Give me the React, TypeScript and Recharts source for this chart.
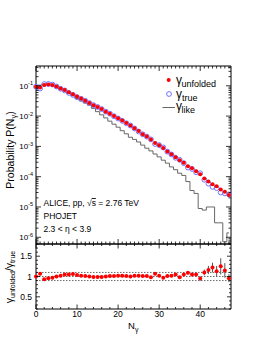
import React from "react";
import { ComposedChart, Scatter, Line, XAxis, YAxis, ReferenceLine, ErrorBar } from "recharts";

const FONT = '"Liberation Sans", Arial, Helvetica, sans-serif';

// photon multiplicity bins
const nGamma = [
  0, 1, 2, 3, 4, 5, 6, 7, 8, 9, 10, 11, 12, 13, 14, 15, 16, 17, 18, 19, 20, 21, 22, 23,
  24, 25, 26, 27, 28, 29, 30, 31, 32, 33, 34, 35, 36, 37, 38, 39, 40, 41, 42, 43, 44, 45, 46, 47,
];

const unfolded = [
  0.093, 0.087, 0.107, 0.110, 0.107, 0.095, 0.082, 0.073, 0.061, 0.053,
  0.044, 0.038, 0.032, 0.027, 0.023, 0.020, 0.017, 0.014, 0.012, 0.010,
  0.0085, 0.0071, 0.0059, 0.0049, 0.0040, 0.0032, 0.0025, 0.0021, 0.0017, 0.0013,
  0.0011, 0.00089, 0.00068, 0.00055, 0.00044, 0.00035, 0.00029, 0.00022, 0.00019, 0.00015,
  0.00012, 8.7e-5, 6.9e-5, 5.6e-5, 4.8e-5, 3.8e-5, 3.2e-5, 2.5e-5,
];

const truth = [
  0.093, 0.081, 0.114, 0.115, 0.110, 0.095, 0.080, 0.070, 0.058, 0.050,
  0.042, 0.037, 0.032, 0.027, 0.023, 0.020, 0.017, 0.014, 0.012, 0.0099,
  0.0083, 0.0070, 0.0058, 0.0049, 0.0039, 0.0031, 0.0025, 0.0021, 0.0017, 0.0012,
  0.0011, 0.00092, 0.00067, 0.00054, 0.00042, 0.00036, 0.00028, 0.00020, 0.00018, 0.00014,
  0.00013, 7.9e-5, 5.9e-5, 4.6e-5, 4.2e-5, 3.0e-5, 2.8e-5, 2.6e-5,
];

const likeDist = [
  0.100, 0.105, 0.112, 0.112, 0.105, 0.093, 0.079, 0.068, 0.056, 0.047,
  0.038, 0.032, 0.027, 0.023, 0.018, 0.014, 0.011, 0.0087, 0.0068, 0.0054,
  0.0043, 0.0033, 0.0026, 0.0020, 0.0017, 0.0014, 0.0011, 0.00087, 0.00071, 0.00056,
  0.00045, 0.00035, 0.00028, 0.00021, 0.00017, 0.00013, 0.00011, 6.9e-5, 3.5e-5, 2.8e-5,
  8.9e-6, 7.9e-6, 1.0e-5, 1.0e-5, 3.0e-6, 3.0e-6, 7.1e-7, 1.4e-6,
];

const ratio = [
  1.0, 1.07, 0.935, 0.96, 0.97, 1.0, 1.02, 1.05, 1.05, 1.06,
  1.04, 1.02, 1.01, 1.0, 0.99, 0.99, 0.99, 1.0, 1.01, 1.01,
  1.02, 1.02, 1.01, 1.0, 1.02, 1.02, 1.01, 1.01, 0.98, 1.07,
  1.02, 0.97, 1.01, 1.02, 1.05, 0.98, 1.05, 1.09, 1.05, 1.05,
  0.95, 1.1, 1.16, 1.22, 1.13, 1.25, 1.15, 0.96,
];

const ratioErr = [
  0.01, 0.01, 0.01, 0.01, 0.01, 0.01, 0.01, 0.01, 0.01, 0.01,
  0.01, 0.01, 0.01, 0.01, 0.01, 0.01, 0.01, 0.01, 0.01, 0.01,
  0.01, 0.01, 0.015, 0.015, 0.015, 0.015, 0.02, 0.02, 0.02, 0.02,
  0.02, 0.025, 0.025, 0.025, 0.03, 0.03, 0.035, 0.04, 0.04, 0.045,
  0.05, 0.07, 0.1, 0.12, 0.13, 0.2, 0.18, 0.1,
];

const xLabels = [0, 10, 20, 30, 40];
const decades = [1e-6, 1e-5, 1e-4, 1e-3, 1e-2, 1e-1];
const ratioLabels = [0.5, 1, 1.5];
const ratioGuides = [0.9, 1, 1.1];

const X_DOMAIN: [number, number] = [0, 47.5];
const LOG_DOMAIN: [number, number] = [6e-7, 0.45];
const RATIO_DOMAIN: [number, number] = [0.2, 1.8];

const topData = nGamma.map((n, i) => ({ n, unfolded: unfolded[i], truth: truth[i], like: likeDist[i] }));
const ratioData = nGamma.map((n, i) => ({ n, ratio: ratio[i], err: ratioErr[i] }));

// tick positions
const xTicksFine = Array.from({ length: 48 }, (_, i) => i);
const xTicksCoarse = Array.from({ length: 24 }, (_, i) => i * 2);
const logTicks: number[] = [];
[1e-7, ...decades].forEach((d) => {
  for (let k = 1; k < 10; k++) {
    const v = d * k;
    if (v >= LOG_DOMAIN[0] && v <= LOG_DOMAIN[1]) logTicks.push(v);
  }
});
const ratioTicks = Array.from({ length: 17 }, (_, i) => Math.round((0.2 + i * 0.1) * 10) / 10);

const isDecade = (v: number) => Math.abs(Math.log10(v) - Math.round(Math.log10(v))) < 1e-6;
const isTen = (v: number) => v % 10 === 0;
const isHalf = (v: number) => Math.abs(v * 2 - Math.round(v * 2)) < 1e-6;

const LogLeftTick = ({ x, y, payload }: any) => {
  const major = isDecade(payload.value);
  return (
    <g>
      <line x1={x} x2={x + (major ? 5 : 2.5)} y1={y} y2={y} stroke="#000" strokeWidth={0.8} />
      {major && (
        <text x={x - 3} y={y + 3} textAnchor="end" fontSize={8} fontFamily={FONT} fill="#000">
          10<tspan dy={-3.5} fontSize={5.5}>{Math.round(Math.log10(payload.value))}</tspan>
        </text>
      )}
    </g>
  );
};

const LogRightTick = ({ x, y, payload }: any) => {
  const major = isDecade(payload.value);
  return <line x1={x} x2={x - (major ? 5 : 2.5)} y1={y} y2={y} stroke="#000" strokeWidth={0.8} />;
};

const RatioLeftTick = ({ x, y, payload }: any) => {
  const major = isHalf(payload.value);
  return (
    <g>
      <line x1={x} x2={x + (major ? 4 : 2)} y1={y} y2={y} stroke="#000" strokeWidth={0.8} />
      {major && ratioLabels.includes(payload.value) && (
        <text x={x - 4} y={y + 3} textAnchor="end" fontSize={8.5} fontFamily={FONT} fill="#000">
          {payload.value}
        </text>
      )}
    </g>
  );
};

const RatioRightTick = ({ x, y, payload }: any) => {
  const major = isHalf(payload.value);
  return <line x1={x} x2={x - (major ? 4 : 2)} y1={y} y2={y} stroke="#000" strokeWidth={0.8} />;
};

const TopXTick = ({ x, y, payload }: any) => (
  <line x1={x} x2={x} y1={y} y2={y + (isTen(payload.value) ? 5 : 2.5)} stroke="#000" strokeWidth={0.8} />
);

const BottomXTick = ({ x, y, payload }: any) => (
  <line x1={x} x2={x} y1={y} y2={y - (isTen(payload.value) ? 5 : 2.5)} stroke="#000" strokeWidth={0.8} />
);

const RatioBottomTick = ({ x, y, payload }: any) => (
  <g>
    <line x1={x} x2={x} y1={y} y2={y - (isTen(payload.value) ? 4.5 : 2)} stroke="#000" strokeWidth={0.8} />
    {xLabels.includes(payload.value) && (
      <text x={x} y={y + 7.5} textAnchor="middle" fontSize={8.5} fontFamily={FONT} fill="#000">
        {payload.value}
      </text>
    )}
  </g>
);

const RatioTopTick = ({ x, y, payload }: any) => (
  <line x1={x} x2={x} y1={y} y2={y + (isTen(payload.value) ? 4.5 : 2)} stroke="#000" strokeWidth={0.8} />
);

const axisLine = { stroke: "#000", strokeWidth: 1 };

export default function App() {
  return (
    <div style={{ position: "absolute", left: 0, top: 0, width: 262, height: 339, background: "#fff", fontFamily: FONT }}>
      <div style={{ position: "absolute", left: 0, top: 0 }}>
        <ComposedChart width={262} height={254} data={topData} margin={{ top: 0, right: 0, bottom: 0, left: 0 }}>
          <XAxis xAxisId="b" dataKey="n" type="number" domain={X_DOMAIN} ticks={xTicksFine} interval={0}
            orientation="bottom" height={10} tickSize={0} tickMargin={0} tickLine={false} axisLine={axisLine} tick={BottomXTick} />
          <XAxis xAxisId="t" dataKey="n" type="number" domain={X_DOMAIN} ticks={xTicksFine} interval={0}
            orientation="top" height={66} tickSize={0} tickMargin={0} tickLine={false} axisLine={axisLine} tick={TopXTick} />
          <YAxis yAxisId="l" scale="log" domain={LOG_DOMAIN} allowDataOverflow ticks={logTicks} interval={0}
            orientation="left" width={36} tickSize={0} tickMargin={0} tickLine={false} axisLine={axisLine} tick={LogLeftTick} />
          <YAxis yAxisId="r" scale="log" domain={LOG_DOMAIN} allowDataOverflow ticks={logTicks} interval={0}
            orientation="right" width={31} tickSize={0} tickMargin={0} tickLine={false} axisLine={axisLine} tick={LogRightTick} />
          <Line xAxisId="b" yAxisId="l" type="step" dataKey="like" stroke="#666" strokeWidth={1} dot={false} isAnimationActive={false} />
          <Scatter xAxisId="b" yAxisId="l" dataKey="truth" isAnimationActive={false}
            shape={(p: any) => <circle cx={p.cx} cy={p.cy} r={2.4} fill="none" stroke="#7272ff" strokeWidth={1} />} />
          <Scatter xAxisId="b" yAxisId="l" dataKey="unfolded" isAnimationActive={false}
            shape={(p: any) => <circle cx={p.cx} cy={p.cy} r={2} fill="#ff0000" />} />
        </ComposedChart>
      </div>

      <div style={{ position: "absolute", left: 0, top: 234 }}>
        <ComposedChart width={262} height={105} data={ratioData} margin={{ top: 0, right: 0, bottom: 0, left: 0 }}>
          <XAxis xAxisId="b" dataKey="n" type="number" domain={X_DOMAIN} ticks={xTicksCoarse} interval={0}
            orientation="bottom" height={30} tickSize={0} tickMargin={0} tickLine={false} axisLine={axisLine} tick={RatioBottomTick} />
          <XAxis xAxisId="t" dataKey="n" type="number" domain={X_DOMAIN} ticks={xTicksCoarse} interval={0}
            orientation="top" height={10} tickSize={0} tickMargin={0} tickLine={false} axisLine={axisLine} tick={RatioTopTick} />
          <YAxis yAxisId="l" domain={RATIO_DOMAIN} allowDataOverflow ticks={ratioTicks} interval={0}
            orientation="left" width={36} tickSize={0} tickMargin={0} tickLine={false} axisLine={axisLine} tick={RatioLeftTick} />
          <YAxis yAxisId="r" domain={RATIO_DOMAIN} allowDataOverflow ticks={ratioTicks} interval={0}
            orientation="right" width={31} tickSize={0} tickMargin={0} tickLine={false} axisLine={axisLine} tick={RatioRightTick} />
          {ratioGuides.map((g) => (
            <ReferenceLine key={g} xAxisId="b" yAxisId="l" y={g} stroke="#444" strokeWidth={0.8} strokeDasharray="1.5 1.5" />
          ))}
          <Scatter xAxisId="b" yAxisId="l" dataKey="ratio" isAnimationActive={false}
            shape={(p: any) => <circle cx={p.cx} cy={p.cy} r={2} fill="#ff0000" />}>
            <ErrorBar dataKey="err" direction="y" width={0} stroke="#555" strokeWidth={1} isAnimationActive={false} />
          </Scatter>
        </ComposedChart>
      </div>

      <svg width={262} height={339} style={{ position: "absolute", left: 0, top: 0, pointerEvents: "none" }} fontFamily={FONT}>
        <text transform="translate(14,150) rotate(-90)" textAnchor="middle" fontSize={10.5} fill="#000">
          Probability P(N<tspan fontSize={7.5} dy={2}>γ</tspan><tspan dy={-2}>)</tspan>
        </text>
        <text transform="translate(12.5,277) rotate(-90)" textAnchor="middle" fontSize={10.5} fill="#000">
          γ<tspan fontSize={7} dy={2.5}>unfolded</tspan><tspan dy={-2.5}>/γ</tspan><tspan fontSize={7} dy={2.5}>true</tspan>
        </text>
        <text x={128} y={329} fontSize={9.5} fill="#000">
          N<tspan fontSize={7} dy={2.5}>γ</tspan>
        </text>

        <text x={43.5} y={206} fontSize={8.5} fill="#000">
          ALICE, pp, √<tspan style={{ textDecoration: "overline" }}>s</tspan> = 2.76 TeV
        </text>
        <text x={43.5} y={219} fontSize={8.5} fill="#000">PHOJET</text>
        <text x={43.5} y={231.5} fontSize={8.5} fill="#000">2.3 &lt; η &lt; 3.9</text>

        <circle cx={168.7} cy={80} r={2} fill="#ff0000" />
        <text x={176} y={84} fontSize={12} fill="#000">γ</text>
        <text x={181.5} y={87.3} fontSize={9} fill="#000">unfolded</text>

        <circle cx={169} cy={94} r={2.4} fill="none" stroke="#7272ff" strokeWidth={1} />
        <text x={176} y={97.5} fontSize={12} fill="#000">γ</text>
        <text x={182} y={100.5} fontSize={9} fill="#000">true</text>

        <line x1={162.5} x2={175} y1={107.5} y2={107.5} stroke="#666" strokeWidth={1} />
        <text x={176} y={110} fontSize={12} fill="#000">γ</text>
        <text x={181.5} y={112.5} fontSize={9} fill="#000">like</text>
      </svg>
    </div>
  );
}
